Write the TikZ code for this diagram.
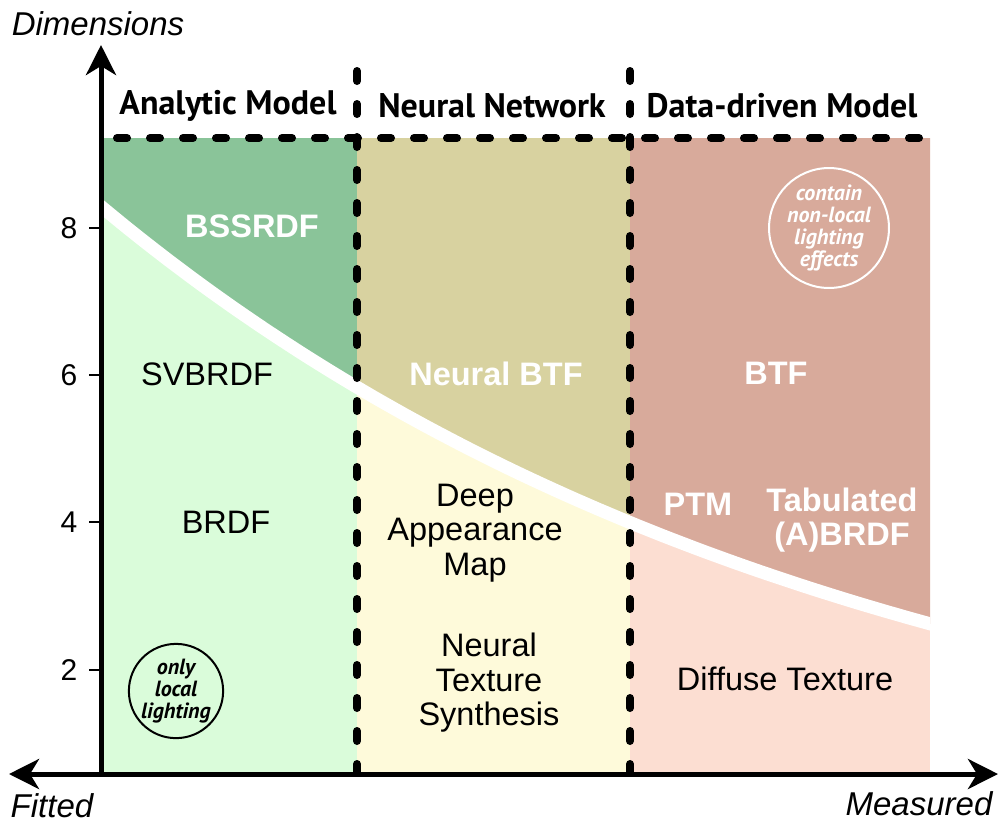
\documentclass[tikz,border=0pt]{standalone}
\usepackage{fontspec}
\setmainfont{Liberation Sans}
\newfontfamily\headfont{PT Sans}
\usetikzlibrary{arrows.meta}

\definecolor{anaDark}{RGB}{138,196,153}
\definecolor{anaLight}{RGB}{218,252,218}
\definecolor{netDark}{RGB}{216,210,160}
\definecolor{netLight}{RGB}{254,250,218}
\definecolor{datDark}{RGB}{216,170,155}
\definecolor{datLight}{RGB}{252,222,210}

\tikzset{
  >={Stealth[length=30pt, width=30pt, inset=9pt]},
  axisline/.style={line width=5pt, line cap=butt},
  sepline/.style={line width=8pt, line cap=round, dash pattern=on 10pt off 23pt},
  tickmark/.style={line width=2pt},
  ticklabel/.style={font=\fontsize{30}{32}\selectfont, anchor=center},
  axislabel/.style={font=\itshape\fontsize{33}{35}\selectfont, anchor=center},
  head/.style={font=\headfont\bfseries\fontsize{34}{36}\selectfont, anchor=center},
  lbl/.style={font=\fontsize{32.5}{34.5}\selectfont, align=center, anchor=center},
  wlbl/.style={font=\bfseries\fontsize{32.5}{34.5}\selectfont, align=center, anchor=center, text=white},
  note/.style={circle, line width=2pt, align=center, inner sep=0pt,
    font=\headfont\bfseries\itshape\fontsize{22}{22}\selectfont},
}

\begin{document}
\begin{tikzpicture}[x=1pt, y=-1pt]
\useasboundingbox (0,0) rectangle (1000,825);

% column backgrounds (lower part)
\fill[anaLight] (103.5,138) rectangle (357,772);
\fill[netLight] (357,138) rectangle (630,772);
\fill[datLight] (630,138) rectangle (930,772);

% upper parts, above the dividing curve
\def\upper{(103.5,138) -- plot[domain=103.5:930, samples=80]
  (\x, {828-619*exp(-0.00134*(\x-104))}) -- (930,138) -- cycle}
\begin{scope}
  \clip (103.5,138) rectangle (357,772);
  \fill[anaDark] \upper;
\end{scope}
\begin{scope}
  \clip (357,138) rectangle (630,772);
  \fill[netDark] \upper;
\end{scope}
\begin{scope}
  \clip (630,138) rectangle (930,772);
  \fill[datDark] \upper;
\end{scope}

% white dividing curve
\begin{scope}
  \clip (103.5,138) rectangle (930,772);
  \draw[white, line width=13pt] plot[domain=95:940, samples=80]
    (\x, {828-619*exp(-0.00134*(\x-104))});
\end{scope}

% separators
\coordinate (topL) at (117,138);
\coordinate (topR) at (926,138);
\coordinate (sepAtop) at (357,71);
\coordinate (sepAbot) at (357,772);
\coordinate (sepBtop) at (630,71);
\coordinate (sepBbot) at (630,772);
\draw[sepline] (topL) -- (topR);
\draw[sepline] (sepAtop) -- (sepAbot);
\draw[sepline] (sepBtop) -- (sepBbot);

% axes
\coordinate (origin) at (101,774);
\coordinate (ytip) at (101,45);
\coordinate (xleft) at (9,774);
\coordinate (xright) at (998,774);
\draw[axisline, ->] (origin) -- (ytip);
\draw[axisline, <->] (xleft) -- (xright);

% ticks
\foreach \v/\yy in {8/228, 6/375, 4/522, 2/670}{
  \coordinate (t\v a) at (89,\yy);
  \coordinate (t\v b) at (101,\yy);
  \draw[tickmark] (t\v a) -- (t\v b);
  \node[ticklabel] (tl\v) at (69,\yy) {\v};
}

% axis labels
\node[axislabel] (dim) at (98,24) {Dimensions};
\node[axislabel] (fit) at (52,806) {Fitted};
\node[axislabel] (meas) at (919,804) {Measured};

% column headings
\node[head] (hA) at (228,106) {Analytic Model};
\node[head] (hB) at (492,106) {Neural Network};
\node[head] (hC) at (782,106) {Data-driven Model};

% region labels
\node[wlbl] (bssrdf) at (252,226) {BSSRDF};
\node[lbl] (svbrdf) at (207,374) {SVBRDF};
\node[lbl] (brdf) at (226,522) {BRDF};
\node[wlbl] (nbtf) at (496,374) {Neural BTF};
\node[wlbl] (btf) at (776,373) {BTF};
\node[lbl] (dam) at (475,533) {Deep\\Appearance\\Map};
\node[lbl] (nts) at (489,683) {Neural\\Texture\\Synthesis};
\node[wlbl] (ptm) at (698,504) {PTM};
\node[wlbl] (tab) at (842,520) {Tabulated\\(A)BRDF};
\node[lbl] (diff) at (785,679) {Diffuse Texture};

% remarks
\node[note, draw=black, minimum size=84pt] (local) at (176,691) {only\\local\\lighting};
\node[note, draw=white, text=white, minimum size=96pt] (nonlocal) at (829,228)
  {contain\\non-local\\lighting\\effects};
\end{tikzpicture}
\end{document}
